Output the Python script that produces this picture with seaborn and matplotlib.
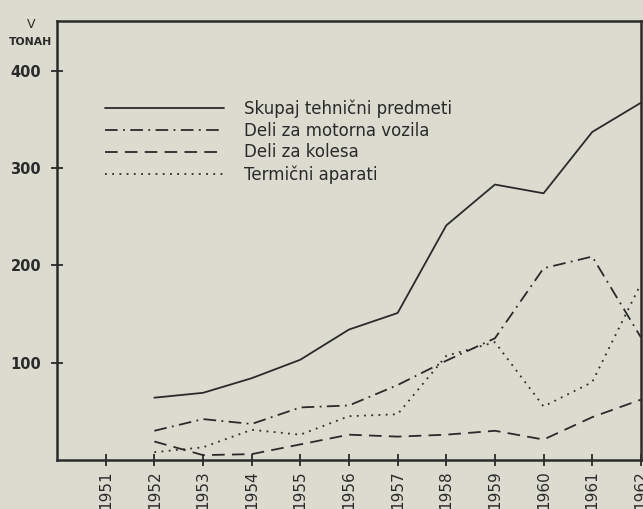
import matplotlib
matplotlib.use("Agg")
import matplotlib.pyplot as plt
import seaborn as sns
import pandas as pd

# values (tonnes)
years = [1952, 1953, 1954, 1955, 1956, 1957, 1958, 1959, 1960, 1961, 1962]
skupaj = [64, 69, 84, 103, 134, 151, 241, 283, 274, 337, 367]
motorna = [30, 42, 37, 54, 56, 77, 102, 125, 197, 209, 126]
kolesa = [19, 5, 6, 16, 26, 24, 26, 30, 21, 44, 62]
termicni = [8, 13, 31, 26, 45, 47, 107, 121, 55, 80, 181]

labels = ["Skupaj tehnični predmeti", "Deli za motorna vozila",
          "Deli za kolesa", "Termični aparati"]
tick_years = list(range(1951, 1963))
ytick_vals = [100, 200, 300, 400]

rows = []
for lab, vals in zip(labels, [skupaj, motorna, kolesa, termicni]):
    for y, v in zip(years, vals):
        rows.append({"leto": y, "tone": v, "serija": lab})
df = pd.DataFrame(rows)

paper = "#dcdbd0"
ink = "#2a2a2a"

sns.set_style("ticks")
plt.rcParams["font.family"] = ["DejaVu Sans"]

fig = plt.figure(figsize=(6.43, 5.09), dpi=100, facecolor=paper)
ax = fig.add_axes([0.0887, 0.0963, 0.908, 0.8624])
ax.set_facecolor(paper)

dashes = {
    labels[0]: "",
    labels[1]: (7, 3, 1, 3),
    labels[2]: (7, 4),
    labels[3]: (1, 3),
}
sns.lineplot(data=df, x="leto", y="tone", hue="serija", style="serija",
             palette=[ink] * 4, dashes=dashes, linewidth=1.3, ax=ax)

ax.set_xlim(1950, 1962)
ax.set_ylim(0, 451)
ax.set_xticks(tick_years)
ax.set_xticklabels([str(t) for t in tick_years], rotation=90, fontsize=11,
                   color=ink)
ax.set_yticks(ytick_vals)
ax.set_yticklabels([str(v) for v in ytick_vals], fontsize=10.5, color=ink,
                   fontweight="bold")
ax.tick_params(axis="both", direction="inout", length=9, width=1.3,
               colors=ink)
ax.tick_params(axis="x", pad=3)
ax.tick_params(axis="y", pad=7)
ax.set_xlabel("")
ax.set_ylabel("")
for s in ax.spines.values():
    s.set_visible(True)
    s.set_color(ink)
    s.set_linewidth(1.8)

leg = ax.legend(loc="upper left", bbox_to_anchor=(0.083, 0.821),
                frameon=False, fontsize=12, handlelength=7.1,
                handletextpad=1.2, labelspacing=0.22, borderpad=0,
                borderaxespad=0)
for t in leg.get_texts():
    t.set_color(ink)

fig.text(31 / 643, 1 - 24 / 509, "V", ha="center", va="center",
         fontsize=9, color=ink)
fig.text(31 / 643, 1 - 42 / 509, "TONAH", ha="center", va="center",
         fontsize=7.8, color=ink, fontweight="bold")

fig.savefig("out.png", dpi=100, facecolor=paper)
